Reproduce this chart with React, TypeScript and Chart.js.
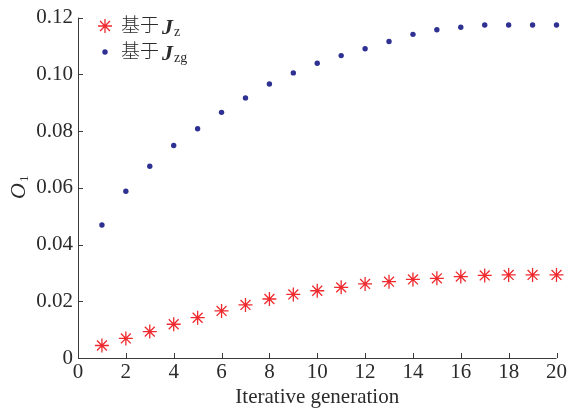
import React, { useEffect, useRef } from "react";
import { Chart, registerables } from "chart.js";

Chart.register(...registerables);

const generations = [1, 2, 3, 4, 5, 6, 7, 8, 9, 10, 11, 12, 13, 14, 15, 16, 17, 18, 19, 20];
const seriesJz = [0.0044, 0.0069, 0.0093, 0.0119, 0.0142, 0.0166, 0.0187, 0.0208, 0.0224, 0.0237, 0.0249, 0.0261, 0.0269, 0.0277, 0.0281, 0.0287, 0.0291, 0.0293, 0.0293, 0.0293];
const seriesJzg = [0.0469, 0.0588, 0.0676, 0.0749, 0.0808, 0.0866, 0.0917, 0.0966, 0.1005, 0.1039, 0.1066, 0.1090, 0.1116, 0.1141, 0.1157, 0.1166, 0.1174, 0.1174, 0.1174, 0.1174];
const legendPrefix = "基于";
const legendSymbol = "J";
const legendSubs = ["z", "zg"];
const xTitle = "Iterative generation";
const yTitleMain = "O";
const yTitleSub = "1";

const RED = "#ee2a2e";
const BLUE = "#2e3192";
const AXIS = "#3a3a3a";
const TEXT = "#2b2b2b";
const SERIF = "'Liberation Serif', 'Times New Roman', serif";

const decorPlugin = {
  id: "decor",
  afterDraw(chart: any) {
    const ctx = chart.ctx as CanvasRenderingContext2D;
    const area = chart.chartArea;
    const xs = chart.scales.x;
    const ys = chart.scales.y;
    ctx.save();
    // axes
    ctx.strokeStyle = AXIS;
    ctx.lineWidth = 1;
    ctx.beginPath();
    ctx.moveTo(area.left + 0.5, area.top);
    ctx.lineTo(area.left + 0.5, area.bottom + 0.5);
    ctx.lineTo(area.right, area.bottom + 0.5);
    ctx.stroke();
    // inward ticks
    ctx.beginPath();
    xs.ticks.forEach((t: any) => {
      const px = Math.round(xs.getPixelForValue(t.value)) + 0.5;
      ctx.moveTo(px, area.bottom);
      ctx.lineTo(px, area.bottom - 5);
    });
    ys.ticks.forEach((t: any) => {
      const py = Math.round(ys.getPixelForValue(t.value)) + 0.5;
      ctx.moveTo(area.left, py);
      ctx.lineTo(area.left + 5, py);
    });
    ctx.stroke();

    // x title
    ctx.fillStyle = TEXT;
    ctx.font = `21px ${SERIF}`;
    ctx.textAlign = "center";
    ctx.textBaseline = "middle";
    ctx.fillText(xTitle, (area.left + area.right) / 2, 397);

    // y title
    ctx.save();
    ctx.translate(17, 188);
    ctx.rotate(-Math.PI / 2);
    ctx.textAlign = "left";
    ctx.textBaseline = "alphabetic";
    ctx.font = `italic 22px ${SERIF}`;
    const ow = ctx.measureText(yTitleMain).width;
    ctx.fillText(yTitleMain, -ow / 2 - 3, 8);
    ctx.font = `13px ${SERIF}`;
    ctx.fillText(yTitleSub, ow / 2 - 2, 11);
    ctx.restore();

    // legend
    const rows = [
      { y: 25, sub: legendSubs[0], marker: "star" },
      { y: 51, sub: legendSubs[1], marker: "dot" },
    ];
    rows.forEach((r) => {
      if (r.marker === "star") {
        ctx.strokeStyle = RED;
        ctx.lineWidth = 1.3;
        const rad = 7;
        ctx.beginPath();
        for (let k = 0; k < 4; k++) {
          const a = (k * Math.PI) / 4;
          ctx.moveTo(105 - Math.cos(a) * rad, r.y + 1 - Math.sin(a) * rad);
          ctx.lineTo(105 + Math.cos(a) * rad, r.y + 1 + Math.sin(a) * rad);
        }
        ctx.stroke();
      } else {
        ctx.fillStyle = BLUE;
        ctx.beginPath();
        ctx.arc(105, r.y + 1, 2.7, 0, Math.PI * 2);
        ctx.fill();
      }
      ctx.fillStyle = TEXT;
      ctx.textAlign = "left";
      ctx.textBaseline = "middle";
      ctx.font = `300 19px 'Noto Sans CJK SC', sans-serif`;
      ctx.fillText(legendPrefix, 121, r.y);
      const pw = ctx.measureText(legendPrefix).width;
      ctx.textBaseline = "alphabetic";
      ctx.font = `italic bold 22px ${SERIF}`;
      ctx.fillText(legendSymbol, 121 + pw + 3, r.y + 9);
      const jw = ctx.measureText(legendSymbol).width;
      ctx.font = `14px ${SERIF}`;
      ctx.fillText(r.sub, 121 + pw + 3 + jw + 1, r.y + 11);
    });
    ctx.restore();
  },
};

export default function App() {
  const ref = useRef<HTMLCanvasElement | null>(null);
  useEffect(() => {
    if (!ref.current) return;
    const chart = new Chart(ref.current, {
      type: "scatter",
      data: {
        datasets: [
          {
            label: legendPrefix + legendSymbol + legendSubs[0],
            data: generations.map((g, i) => ({ x: g, y: seriesJz[i] })),
            pointStyle: "star",
            pointRadius: 7,
            pointBorderWidth: 1.3,
            borderColor: RED,
            backgroundColor: RED,
            pointBorderColor: RED,
            clip: false,
          } as any,
          {
            label: legendPrefix + legendSymbol + legendSubs[1],
            data: generations.map((g, i) => ({ x: g, y: seriesJzg[i] })),
            pointStyle: "circle",
            pointRadius: 2.7,
            pointBorderWidth: 0,
            borderColor: BLUE,
            backgroundColor: BLUE,
            clip: false,
          } as any,
        ],
      },
      options: {
        animation: false,
        responsive: false,
        maintainAspectRatio: false,
        layout: { padding: { top: 14, right: 12, left: 0, bottom: 0 } },
        plugins: { legend: { display: false }, tooltip: { enabled: false } },
        scales: {
          x: {
            type: "linear",
            min: 0,
            max: 20,
            grid: { display: false, drawTicks: false },
            border: { display: false },
            ticks: {
              stepSize: 2,
              padding: 2,
              color: TEXT,
              font: { family: SERIF, size: 21 },
              maxRotation: 0,
            },
            afterFit: (s: any) => {
              s.height = 52;
            },
          },
          y: {
            type: "linear",
            min: 0,
            max: 0.12,
            grid: { display: false, drawTicks: false },
            border: { display: false },
            ticks: {
              stepSize: 0.02,
              padding: 5,
              color: TEXT,
              font: { family: SERIF, size: 21 },
              callback: (v: any) => (Math.abs(v) < 1e-9 ? "0" : Number(v).toFixed(2)),
            },
            afterFit: (s: any) => {
              s.width = 78;
            },
          },
        },
      },
      plugins: [decorPlugin],
    });
    return () => chart.destroy();
  }, []);
  return (
    <div style={{ position: "fixed", left: 0, top: 0, width: 569, height: 410, background: "#fff" }}>
      <canvas ref={ref} width={569} height={410} style={{ width: 569, height: 410 }} />
    </div>
  );
}
